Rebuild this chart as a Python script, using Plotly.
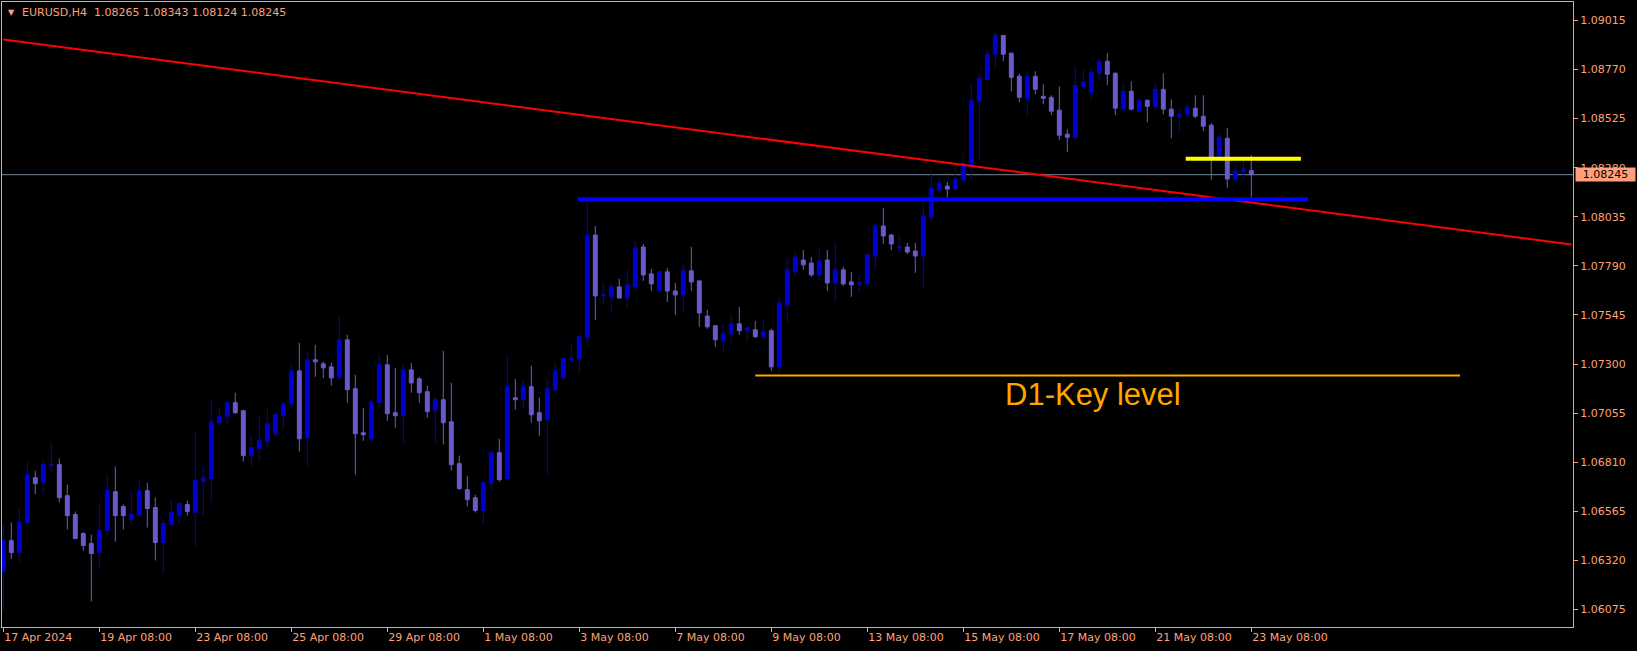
import plotly.graph_objects as go

# ---------------- DATA ----------------
symbol = "EURUSD,H4"

opens = [1.06263,1.06419,1.06359,1.06509,1.06733,1.06710,1.06795,1.06798,1.06643,1.06549,
         1.06454,1.06404,1.06359,1.06469,1.06663,1.06589,1.06524,1.06544,1.06668,1.06584,
         1.06409,1.06499,1.06544,1.06599,1.06559,1.06713,1.06728,1.07007,1.07039,1.07107,
         1.07067,1.06843,1.06878,1.06912,1.06952,1.07042,1.07102,1.07266,1.06932,1.07321,
         1.07301,1.07286,1.07231,1.07421,1.07177,1.06957,1.06927,1.07107,1.07296,1.07057,
         1.07042,1.07271,1.07226,1.07162,1.07067,1.07122,1.07012,1.06803,1.06673,1.06633,
         1.06569,1.06703,1.06858,1.06728,1.07132,1.07122,1.07187,1.07057,1.07022,1.07172,
         1.07231,1.07321,1.07326,1.07431,1.07944,1.07640,1.07635,1.07685,1.07630,1.07685,
         1.07884,1.07750,1.07665,1.07760,1.07665,1.07645,1.07765,1.07715,1.07540,1.07491,
         1.07416,1.07451,1.07501,1.07466,1.07471,1.07436,1.07466,1.07286,1.07595,1.07760,
         1.07819,1.07804,1.07745,1.07819,1.07705,1.07770,1.07710,1.07700,1.07700,1.07839,
         1.07989,1.07944,1.07879,1.07884,1.07864,1.07839,1.08033,1.08168,1.08188,1.08173,
         1.08218,1.08297,1.08611,1.08721,1.08846,1.08940,1.08851,1.08736,1.08626,1.08736,
         1.08636,1.08631,1.08567,1.08447,1.08432,1.08686,1.08656,1.08751,1.08811,1.08751,
         1.08572,1.08661,1.08562,1.08616,1.08586,1.08671,1.08572,1.08537,1.08547,1.08577,
         1.08537,1.08492,1.08322,1.08427,1.08223,1.08258,1.08265]
highs = [1.06502,1.06509,1.06579,1.06809,1.06768,1.06816,1.06912,1.06828,1.06698,1.06564,
         1.06461,1.06449,1.06609,1.06753,1.06788,1.06599,1.06665,1.06720,1.06708,1.06633,
         1.06524,1.06623,1.06609,1.06618,1.06962,1.06793,1.07127,1.07087,1.07117,1.07157,
         1.07070,1.06942,1.07039,1.07077,1.07057,1.07112,1.07296,1.07406,1.07361,1.07396,
         1.07311,1.07306,1.07540,1.07446,1.07246,1.07082,1.07127,1.07346,1.07346,1.07281,
         1.07301,1.07306,1.07236,1.07192,1.07137,1.07366,1.07206,1.06843,1.06743,1.06648,
         1.06718,1.06863,1.06927,1.07336,1.07226,1.07221,1.07291,1.07132,1.07226,1.07311,
         1.07330,1.07406,1.07451,1.08123,1.07989,1.07705,1.07700,1.07725,1.07770,1.07914,
         1.07899,1.07775,1.07762,1.07780,1.07705,1.07799,1.07884,1.07718,1.07570,1.07496,
         1.07501,1.07550,1.07585,1.07483,1.07515,1.07525,1.07476,1.07635,1.07824,1.07854,
         1.07869,1.07834,1.07874,1.07869,1.07909,1.07785,1.07760,1.07740,1.07854,1.08004,
         1.08079,1.07949,1.07944,1.07904,1.07904,1.08113,1.08263,1.08238,1.08208,1.08283,
         1.08352,1.08696,1.08751,1.08866,1.08955,1.08942,1.08856,1.08751,1.08761,1.08761,
         1.08696,1.08641,1.08686,1.08472,1.08786,1.08771,1.08776,1.08826,1.08851,1.08756,
         1.08701,1.08711,1.08621,1.08621,1.08701,1.08751,1.08621,1.08572,1.08601,1.08641,
         1.08641,1.08502,1.08447,1.08477,1.08293,1.08327,1.08343]
lows = [1.06072,1.06326,1.06310,1.06491,1.06650,1.06653,1.06760,1.06609,1.06474,1.06426,
        1.06369,1.06115,1.06280,1.06444,1.06414,1.06474,1.06499,1.06540,1.06484,1.06320,
        1.06250,1.06494,1.06504,1.06544,1.06394,1.06544,1.06609,1.07002,1.06997,1.07052,
        1.06813,1.06790,1.06818,1.06878,1.06937,1.06977,1.07082,1.06863,1.06793,1.07236,
        1.07231,1.07192,1.07221,1.07107,1.06748,1.06917,1.06912,1.07082,1.07017,1.06982,
        1.06907,1.07157,1.07107,1.07032,1.06907,1.06898,1.06768,1.06673,1.06589,1.06559,
        1.06504,1.06673,1.06713,1.06718,1.07072,1.07077,1.07007,1.06942,1.06753,1.07147,
        1.07226,1.07316,1.07251,1.07391,1.07520,1.07595,1.07555,1.07625,1.07580,1.07665,
        1.07715,1.07665,1.07660,1.07610,1.07545,1.07555,1.07665,1.07486,1.07476,1.07386,
        1.07356,1.07406,1.07446,1.07416,1.07431,1.07426,1.07266,1.07246,1.07509,1.07740,
        1.07770,1.07735,1.07720,1.07665,1.07610,1.07690,1.07635,1.07660,1.07695,1.07775,
        1.07899,1.07869,1.07854,1.07849,1.07755,1.07675,1.08009,1.08158,1.08133,1.08163,
        1.08213,1.08218,1.08317,1.08716,1.08781,1.08811,1.08661,1.08606,1.08542,1.08646,
        1.08596,1.08542,1.08417,1.08357,1.08427,1.08681,1.08621,1.08716,1.08691,1.08542,
        1.08570,1.08567,1.08560,1.08507,1.08567,1.08547,1.08427,1.08462,1.08527,1.08527,
        1.08462,1.08218,1.08317,1.08178,1.08213,1.08223,1.08124]
closes = [1.06419,1.06359,1.06512,1.06748,1.06703,1.06798,1.06800,1.06633,1.06544,1.06429,
          1.06394,1.06354,1.06469,1.06670,1.06544,1.06544,1.06549,1.06668,1.06579,1.06409,
          1.06504,1.06559,1.06604,1.06564,1.06718,1.06733,1.07012,1.07039,1.07107,1.07057,
          1.06843,1.06883,1.06917,1.07002,1.07047,1.07102,1.07266,1.06927,1.07321,1.07311,
          1.07281,1.07231,1.07421,1.07172,1.06952,1.06947,1.07112,1.07296,1.07052,1.07042,
          1.07271,1.07206,1.07157,1.07062,1.07122,1.07007,1.06798,1.06678,1.06623,1.06569,
          1.06708,1.06858,1.06723,1.07187,1.07122,1.07187,1.07047,1.07017,1.07177,1.07266,
          1.07326,1.07329,1.07436,1.07944,1.07640,1.07645,1.07685,1.07630,1.07695,1.07879,
          1.07745,1.07700,1.07760,1.07665,1.07645,1.07765,1.07710,1.07555,1.07486,1.07421,
          1.07451,1.07501,1.07466,1.07481,1.07436,1.07461,1.07286,1.07605,1.07770,1.07834,
          1.07795,1.07745,1.07814,1.07705,1.07770,1.07700,1.07695,1.07705,1.07844,1.07989,
          1.07939,1.07899,1.07884,1.07859,1.07839,1.08039,1.08178,1.08203,1.08173,1.08223,
          1.08302,1.08616,1.08726,1.08846,1.08940,1.08846,1.08731,1.08631,1.08736,1.08671,
          1.08626,1.08562,1.08442,1.08432,1.08691,1.08706,1.08756,1.08811,1.08746,1.08577,
          1.08661,1.08572,1.08616,1.08586,1.08671,1.08572,1.08537,1.08547,1.08582,1.08537,
          1.08487,1.08322,1.08432,1.08223,1.08263,1.08273,1.08245]

# time-axis labels (one every 12 H4 bars)
time_labels = ["17 Apr 2024", "19 Apr 08:00", "23 Apr 08:00", "25 Apr 08:00",
               "29 Apr 08:00", "1 May 08:00", "3 May 08:00", "7 May 08:00",
               "9 May 08:00", "13 May 08:00", "15 May 08:00", "17 May 08:00",
               "21 May 08:00", "23 May 08:00"]
bars_per_label = 12

price_ticks = [1.09015, 1.08770, 1.08525, 1.08280, 1.08035, 1.07790, 1.07545,
               1.07300, 1.07055, 1.06810, 1.06565, 1.06320, 1.06075]

# drawn objects (bar index, price)
trend_bars = [0, 196]
trend_prices = [1.08920, 1.07897]
blue_level = 1.08123
blue_bars = [71.8, 163.1]
yellow_level = 1.08324
yellow_bars = [147.8, 162.2]
key_level = 1.07243
key_bars = [94.0, 182.1]
key_text = "D1-Key level"
key_text_pos = (125.0, 1.07150)

# ---------------- FIGURE ----------------
FG = "#FFA07A"
W, H = 1637, 651
ML, MR, MT, MB = 2, 64, 2, 24

n = len(opens)
xs = list(range(n))

fig = go.Figure()

fig.add_trace(go.Candlestick(
    x=xs, open=opens, high=highs, low=lows, close=closes,
    increasing=dict(line=dict(color="#0000CD", width=1), fillcolor="#0000CD"),
    decreasing=dict(line=dict(color="#6A5ACD", width=1), fillcolor="#6A5ACD"),
    hoverinfo="skip", showlegend=False,
))

# current price line
fig.add_shape(type="line", xref="paper", x0=0, x1=1, yref="y",
              y0=closes[-1], y1=closes[-1], line=dict(color="#778899", width=1), layer="below")

# trend line
fig.add_trace(go.Scatter(x=trend_bars, y=trend_prices, mode="lines",
                         line=dict(color="#FF0000", width=2), hoverinfo="skip", showlegend=False))
# key level
fig.add_trace(go.Scatter(x=key_bars, y=[key_level, key_level], mode="lines",
                         line=dict(color="#FFA500", width=2), hoverinfo="skip", showlegend=False))
# blue level
fig.add_trace(go.Scatter(x=blue_bars, y=[blue_level, blue_level], mode="lines",
                         line=dict(color="#0000FF", width=4), hoverinfo="skip", showlegend=False))
# yellow level
fig.add_trace(go.Scatter(x=yellow_bars, y=[yellow_level, yellow_level], mode="lines",
                         line=dict(color="#FFFF00", width=4), hoverinfo="skip", showlegend=False))

fig.add_annotation(x=key_text_pos[0], y=key_text_pos[1], xref="x", yref="y",
                   text=key_text, showarrow=False, xanchor="left", yanchor="middle",
                   font=dict(family="Liberation Sans, Arial", size=31, color="#FFA500"))

pw = W - ML - MR
ph = H - MT - MB

def px_x(X):
    return (X - ML) / pw

def px_y(Y):
    return (H - MB - Y) / ph

title = f"{symbol}\u00a0\u00a0{opens[-1]:.5f} {highs[-1]:.5f} {lows[-1]:.5f} {closes[-1]:.5f}"
fig.add_annotation(x=px_x(20), y=px_y(12.3), xref="paper", yref="paper", text=title,
                   showarrow=False, xanchor="left", yanchor="middle",
                   font=dict(family="DejaVu Sans", size=11, color=FG))
fig.add_annotation(x=px_x(11), y=px_y(12), xref="paper", yref="paper", text="▼",
                   showarrow=False, xanchor="center", yanchor="middle",
                   font=dict(family="DejaVu Sans", size=8, color=FG))

# current price tag
fig.add_annotation(x=1, y=closes[-1], xref="paper", yref="y", text=f"{closes[-1]:.5f}",
                   showarrow=False, xanchor="left", yanchor="middle", xshift=2,
                   width=57, height=11, align="center", borderpad=1,
                   bgcolor=FG, font=dict(family="DejaVu Sans", size=11, color="#000000"))

# axis ranges: 8 px per bar, first bar at pixel 3.3
x_left = (ML - 3.3) / 8.0
x_right = (W - MR - 3.3) / 8.0
y_top = 1.09015 + (20.4 - MT) / 20037.0
y_bot = 1.06075 - ((H - MB) - 609.5) / 20037.0

fig.update_layout(
    width=W, height=H,
    margin=dict(l=ML, r=MR, t=MT, b=MB, autoexpand=False),
    paper_bgcolor="#000000", plot_bgcolor="#000000",
    showlegend=False,
    xaxis=dict(
        range=[x_left, x_right], rangeslider=dict(visible=False),
        showgrid=False, zeroline=False,
        showline=True, mirror=True, linecolor=FG, linewidth=1,
        tickmode="array",
        tickvals=[i * bars_per_label for i in range(len(time_labels))],
        ticktext=time_labels,
        ticks="outside", ticklen=4, tickcolor=FG, tickwidth=1,
        ticklabelposition="outside right",
        tickfont=dict(family="DejaVu Sans", size=11, color=FG),
        fixedrange=True,
    ),
    yaxis=dict(
        range=[y_bot, y_top], side="right",
        showgrid=False, zeroline=False,
        showline=True, mirror=True, linecolor=FG, linewidth=1,
        tickmode="array", tickvals=price_ticks,
        ticktext=[f"{v:.5f}" for v in price_ticks],
        ticks="outside", ticklen=4, tickcolor=FG, tickwidth=1,
        tickfont=dict(family="DejaVu Sans", size=11, color=FG),
        fixedrange=True,
    ),
)

fig.write_html(
    "out.html",
    config={"displayModeBar": False, "staticPlot": True},
    post_script="document.body.style.margin='0';document.body.style.background='#000';",
)
